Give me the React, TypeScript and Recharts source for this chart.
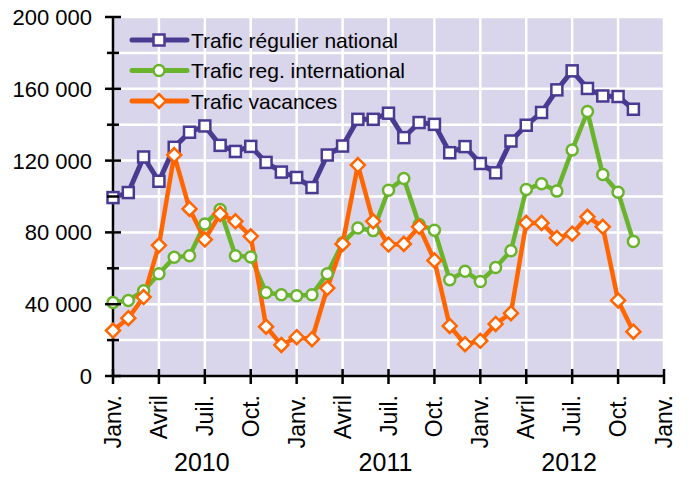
import React from 'react';
import { LineChart, Line, XAxis, YAxis, CartesianGrid, Legend } from 'recharts';

// Monthly traffic, Jan 2010 .. Nov 2012 (month index 0..34)
const national = [99400, 102200, 122000, 108500, 127400, 135800, 139300, 128500, 125100, 127900, 119000, 113600,
  110600, 105000, 123100, 128100, 143000, 143000, 146400, 132800, 141200, 140200, 124400, 127800,
  118400, 113200, 130900, 139700, 146800, 159400, 170000, 160200, 156000, 155700, 148600];
const international = [40900, 42100, 47500, 57000, 66100, 67000, 84700, 92700, 67000, 66300, 46500, 45300,
  44700, 45300, 57000, 74100, 82500, 81000, 103500, 110000, 84400, 81200, 53600, 58300,
  52700, 60500, 69800, 103900, 107100, 103000, 125900, 147300, 112300, 102400, 75000];
const vacances = [25300, 32200, 44000, 72800, 123100, 93100, 76000, 90300, 86200, 77800, 27500, 17300,
  21600, 20500, 49000, 73600, 117500, 86200, 73200, 73600, 83100, 64400, 27900, 17700,
  19600, 29000, 35000, 85300, 85300, 76900, 79300, 88700, 83100, 42100, 24700];

const monthLabels = ['Janv.', 'Avril', 'Juil.', 'Oct.'];
const yearLabels = ['2010', '2011', '2012'];
const xTicks = [0, 3, 6, 9, 12, 15, 18, 21, 24, 27, 30, 33, 36];
const yTicks = [0, 20000, 40000, 60000, 80000, 100000, 120000, 140000, 160000, 180000, 200000];

const seriesNames = ['Trafic régulier national', 'Trafic reg. international', 'Trafic vacances'];
const COLORS = { national: '#4a3a92', international: '#6ab42c', vacances: '#ff6600' };

const data = national.map((v, i) => ({
  m: i,
  national: v,
  international: international[i],
  vacances: vacances[i],
}));

const FONT = '"Liberation Sans", Arial, sans-serif';

const fmt = (v: number) => String(v).replace(/\B(?=(\d{3})+(?!\d))/g, ' ');

const YTick = (props: any) => {
  const { x, y, payload } = props;
  const major = payload.value % 40000 === 0;
  return (
    <g>
      <line x1={x - (major ? 8 : 6)} x2={x + (major ? 8 : 6)} y1={y} y2={y} stroke="#000" strokeWidth={2.5} />
      {major && (
        <text x={x - 21} y={y} dy={8} textAnchor="end" fontSize={22} fontFamily={FONT} fill="#000">
          {fmt(payload.value)}
        </text>
      )}
    </g>
  );
};

const XTick = (props: any) => {
  const { x, y, payload } = props;
  const v = payload.value as number;
  const label = monthLabels[(v / 3) % 4];
  const isJuly = v % 12 === 6;
  return (
    <g>
      <line x1={x} x2={x} y1={y - 7} y2={y + 8} stroke="#000" strokeWidth={2.5} />
      <text
        x={x + 8}
        y={y + 19}
        transform={`rotate(-90 ${x + 8} ${y + 19})`}
        textAnchor="end"
        fontSize={23}
        fontFamily={FONT}
        fill="#000"
      >
        {label}
      </text>
      {isJuly && (
        <text x={x - 3} y={y + 95} textAnchor="middle" fontSize={25} fontFamily={FONT} fill="#000">
          {yearLabels[(v - 6) / 12]}
        </text>
      )}
    </g>
  );
};

const Square = (cx: number, cy: number, color: string, key?: any) => (
  <rect key={key} x={cx - 5.5} y={cy - 5.5} width={11} height={11} fill="#fff" stroke={color} strokeWidth={2.5} />
);
const Circle = (cx: number, cy: number, color: string, key?: any) => (
  <circle key={key} cx={cx} cy={cy} r={5.5} fill="#fff" stroke={color} strokeWidth={2.5} />
);
const Diamond = (cx: number, cy: number, color: string, key?: any) => (
  <path
    key={key}
    d={`M${cx},${cy - 7}L${cx + 7},${cy}L${cx},${cy + 7}L${cx - 7},${cy}Z`}
    fill="#fff"
    stroke={color}
    strokeWidth={2.5}
  />
);

const makeDot = (shape: typeof Square, color: string) => (props: any) => {
  const { cx, cy, index } = props;
  if (cx == null || cy == null) return <g key={`e${index}`} />;
  return shape(cx, cy, color, `d${index}`);
};

const legendItems = [
  { name: seriesNames[0], color: COLORS.national, shape: Square },
  { name: seriesNames[1], color: COLORS.international, shape: Circle },
  { name: seriesNames[2], color: COLORS.vacances, shape: Diamond },
];

const LegendContent = () => (
  <svg width={420} height={120} style={{ overflow: 'visible' }}>
    {legendItems.map((it, i) => {
      const y = 40 + i * 30.5;
      return (
        <g key={it.name}>
          <line x1={124} x2={179} y1={y} y2={y} stroke={it.color} strokeWidth={5} strokeLinecap="round" />
          {it.shape(151, y, it.color)}
          <text x={183} y={y} dy={7.5} fontSize={21} fontFamily={FONT} fill="#000">
            {it.name}
          </text>
        </g>
      );
    })}
  </svg>
);

export default function App() {
  return (
    <div style={{ marginTop: -8 }}>
      <LineChart
        width={681}
        height={477}
        data={data}
        margin={{ top: 17, right: 25, bottom: 0, left: 0 }}
        style={{ fontFamily: FONT }}
      >
        <CartesianGrid fill="#d9d5ea" fillOpacity={1} stroke="#ffffff" strokeWidth={2.5} />
        <XAxis
          dataKey="m"
          type="number"
          domain={[0, 36]}
          ticks={xTicks}
          interval={0}
          height={101}
          tickSize={0}
          tickMargin={0}
          tickLine={false}
          axisLine={{ stroke: '#000', strokeWidth: 2.5 }}
          tick={<XTick />}
        />
        <YAxis
          type="number"
          domain={[0, 200000]}
          ticks={yTicks}
          interval={0}
          width={105}
          tickSize={0}
          tickMargin={0}
          tickLine={false}
          axisLine={{ stroke: '#000', strokeWidth: 2.5 }}
          tick={<YTick />}
        />
        <Legend
          layout="vertical"
          align="center"
          verticalAlign="middle"
          wrapperStyle={{ left: 0, top: 0, width: 420, height: 120 }}
          content={<LegendContent />}
        />
        <Line
          type="linear"
          dataKey="national"
          name={seriesNames[0]}
          stroke={COLORS.national}
          strokeWidth={5}
          dot={makeDot(Square, COLORS.national)}
          activeDot={false}
          isAnimationActive={false}
        />
        <Line
          type="linear"
          dataKey="international"
          name={seriesNames[1]}
          stroke={COLORS.international}
          strokeWidth={4.5}
          dot={makeDot(Circle, COLORS.international)}
          activeDot={false}
          isAnimationActive={false}
        />
        <Line
          type="linear"
          dataKey="vacances"
          name={seriesNames[2]}
          stroke={COLORS.vacances}
          strokeWidth={4.5}
          dot={makeDot(Diamond, COLORS.vacances)}
          activeDot={false}
          isAnimationActive={false}
        />
      </LineChart>
    </div>
  );
}
